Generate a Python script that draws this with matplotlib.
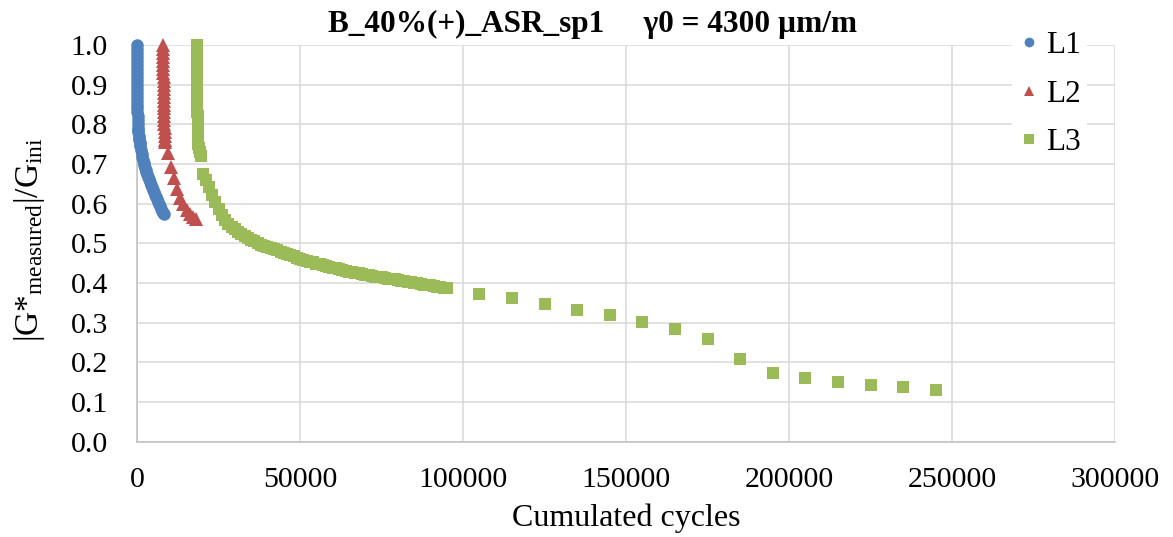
#!/usr/bin/env python3

import matplotlib

matplotlib.use("Agg")
import matplotlib.pyplot as plt
from matplotlib.lines import Line2D

# --- data --------------------------------------------------------------

L1_CYCLES = [
    0, 0, 5, 5, 10, 10, 15, 20, 25, 30,
    35, 40, 50, 60, 70, 80, 90, 100, 130, 160,
    200, 250, 300, 400, 500, 600, 700, 800, 900, 1000,
    1200, 1400, 1600, 1800, 2000, 2200, 2400, 2600, 2800, 3000,
    3300, 3600, 3900, 4200, 4500, 4800, 5100, 5400, 5700, 6000,
    6300, 6600, 6900, 7200, 7500, 7800, 8100,
]
L1_RATIO = [
    1.00, 0.99, 0.98, 0.97, 0.96, 0.95, 0.94, 0.93, 0.92, 0.91,
    0.90, 0.89, 0.88, 0.87, 0.86, 0.85, 0.84, 0.83, 0.82, 0.81,
    0.80, 0.79, 0.785, 0.78, 0.77, 0.765, 0.76, 0.755, 0.75, 0.745,
    0.735, 0.725, 0.717, 0.71, 0.703, 0.697, 0.691, 0.685, 0.68, 0.675,
    0.668, 0.661, 0.654, 0.647, 0.641, 0.635, 0.629, 0.623, 0.617, 0.611,
    0.605, 0.599, 0.593, 0.587, 0.582, 0.577, 0.573,
]

L2_CYCLES = [
    8050, 8055, 8060, 8065, 8070, 8075, 8080, 8090, 8100, 8110,
    8120, 8140, 8160, 8180, 8200, 8220, 8250, 8280, 8310, 8340,
    8380, 8420, 8470, 8530, 8600, 8700,
    9450, 10500, 11200, 12200, 13200, 14200, 15200, 16200, 17200, 18000,
]
L2_RATIO = [
    1.00, 0.99, 0.98, 0.97, 0.96, 0.95, 0.94, 0.93, 0.92, 0.91,
    0.90, 0.89, 0.88, 0.87, 0.86, 0.85, 0.84, 0.83, 0.82, 0.81,
    0.80, 0.79, 0.78, 0.77, 0.76, 0.755,
    0.727, 0.693, 0.664, 0.637, 0.615, 0.598, 0.585, 0.575, 0.567, 0.561,
]

L3_CYCLES = [
    18400, 18400, 18410, 18410, 18420, 18420, 18430, 18430, 18440, 18440, 18450,
    18460, 18470, 18480, 18490, 18500, 18510, 18520, 18530, 18540, 18550,
    18560, 18580, 18600, 18650, 18800, 19000, 19250, 19550,
    20300, 21000, 22000, 23000, 24000, 25000, 26000, 27000, 28000, 29000,
    30000, 31000, 32000, 33000, 34000, 35000, 36000, 37000, 38000, 39000,
    40000, 41000, 42000, 43000, 44000, 45000, 46000, 47000, 48000, 49000,
    50000, 51000, 52000, 53000, 54000, 55000, 56000, 57000, 58000, 59000,
    60000, 61000, 62000, 63000, 64000, 65000, 66000, 67000, 68000, 69000,
    70000, 71000, 72000, 73000, 74000, 75000, 76000, 77000, 78000, 79000,
    80000, 81000, 82000, 83000, 84000, 85000, 86000, 87000, 88000, 89000,
    90000, 91000, 92000, 93000, 94000, 95000,
    105000, 115000, 125000, 135000, 145000, 155000, 165000, 175000,
    185000, 195000, 205000, 215000, 225000, 235000, 245000,
]
L3_RATIO = [
    1.00, 0.99, 0.98, 0.97, 0.96, 0.95, 0.94, 0.93, 0.92, 0.91, 0.90,
    0.89, 0.88, 0.87, 0.86, 0.85, 0.84, 0.83, 0.82, 0.81, 0.80,
    0.79, 0.78, 0.77, 0.76, 0.75, 0.74, 0.73, 0.72,
    0.675, 0.660, 0.641, 0.623, 0.604, 0.587, 0.572, 0.560, 0.550, 0.542,
    0.535, 0.529, 0.524, 0.519, 0.514, 0.509, 0.505, 0.501, 0.497, 0.494,
    0.491, 0.488, 0.485, 0.482, 0.479, 0.476, 0.473, 0.470, 0.467, 0.464,
    0.461, 0.459, 0.456, 0.454, 0.452, 0.449, 0.447, 0.445, 0.443, 0.441,
    0.439, 0.437, 0.435, 0.433, 0.431, 0.429, 0.427, 0.425, 0.424, 0.422,
    0.421, 0.419, 0.418, 0.416, 0.415, 0.414, 0.412, 0.411, 0.410, 0.409,
    0.408, 0.406, 0.405, 0.403, 0.402, 0.400, 0.399, 0.398, 0.396, 0.395,
    0.394, 0.392, 0.391, 0.390, 0.388, 0.387,
    0.372, 0.361, 0.346, 0.331, 0.319, 0.301, 0.283, 0.258,
    0.208, 0.172, 0.160, 0.150, 0.142, 0.137, 0.130,
]

# name, x, y, colour, marker, size in plot, size in legend
SERIES = [
    ("L1", L1_CYCLES, L1_RATIO, "#4F81BD", "o", 9.0, 7.0),
    ("L2", L2_CYCLES, L2_RATIO, "#C0504D", "^", 9.5, 7.5),
    ("L3", L3_CYCLES, L3_RATIO, "#9BBB59", "s", 8.2, 7.0),
]

X_TICKS = [0, 50000, 100000, 150000, 200000, 250000, 300000]
Y_TICKS = [0.0, 0.1, 0.2, 0.3, 0.4, 0.5, 0.6, 0.7, 0.8, 0.9, 1.0]

TITLE = "B_40%(+)_ASR_sp1     \u03b30 = 4300 \u00b5m/m"

GRID_COLOR = "#D9D9D9"
AXIS_COLOR = "#BFBFBF"


def main() -> int:
    plt.rcParams["font.family"] = ["Liberation Serif", "DejaVu Serif"]
    plt.rcParams["mathtext.fontset"] = "custom"
    plt.rcParams["mathtext.rm"] = "Liberation Serif"
    plt.rcParams["mathtext.it"] = "Liberation Serif:italic"
    plt.rcParams["mathtext.default"] = "regular"

    W, H = 1173, 537
    fig = plt.figure(figsize=(W / 100, H / 100), dpi=100)
    left, right, top, bottom = 137.1, 1115.0, 45.0, 441.7
    ax = fig.add_axes([left / W, 1 - bottom / H, (right - left) / W, (bottom - top) / H])

    # Excel does not clip markers at the plot edge, so neither do we
    for name, xs, ys, color, marker, size, _ in SERIES:
        ax.plot(xs, ys, linestyle="none", marker=marker, markersize=size,
                color=color, markeredgewidth=0, label=name, zorder=3,
                clip_on=False)

    ax.set_xlim(0, 300000)
    ax.set_ylim(0, 1.0)
    ax.set_xticks(X_TICKS)
    ax.set_yticks(Y_TICKS)
    ax.set_xticklabels([str(v) for v in X_TICKS])
    ax.set_yticklabels([f"{v:.1f}" for v in Y_TICKS])
    ax.tick_params(axis="both", length=0, labelsize=21.5)
    ax.tick_params(axis="y", pad=21)
    ax.tick_params(axis="x", pad=18)

    ax.grid(True, color=GRID_COLOR, linewidth=1.1, zorder=0)
    ax.set_axisbelow(True)
    for side in ("top", "right"):
        ax.spines[side].set_visible(False)
    for side in ("left", "bottom"):
        ax.spines[side].set_color(AXIS_COLOR)
        ax.spines[side].set_linewidth(1.1)

    ax.set_xlabel("Cumulated cycles", fontsize=23, labelpad=8)
    fig.text(30 / W, 1 - 240 / H, r"|G*$_{measured}$|/G$_{ini}$",
             rotation=90, ha="center", va="center", fontsize=24)
    fig.text(592 / W, 1 - 24 / H, TITLE, ha="center", va="center",
             fontsize=22.5, fontweight="bold")

    handles = [
        Line2D([0], [0], linestyle="none", marker=marker, markersize=leg_size,
               color=color, markeredgewidth=0, label=name)
        for name, _, _, color, marker, _, leg_size in SERIES
    ]
    leg = ax.legend(handles=handles, loc="upper left",
                    bbox_to_anchor=(1012 / W, 1 - 25 / H),
                    bbox_transform=fig.transFigure, fontsize=22.5,
                    frameon=True, facecolor="white", edgecolor="none",
                    framealpha=1.0, fancybox=False, handlelength=0.7,
                    handletextpad=0.2, labelspacing=0.62, borderpad=0.2,
                    borderaxespad=0)
    leg.set_zorder(5)

    fig.savefig("out.png", dpi=100)
    plt.close(fig)
    return 0


if __name__ == "__main__":
    raise SystemExit(main())
